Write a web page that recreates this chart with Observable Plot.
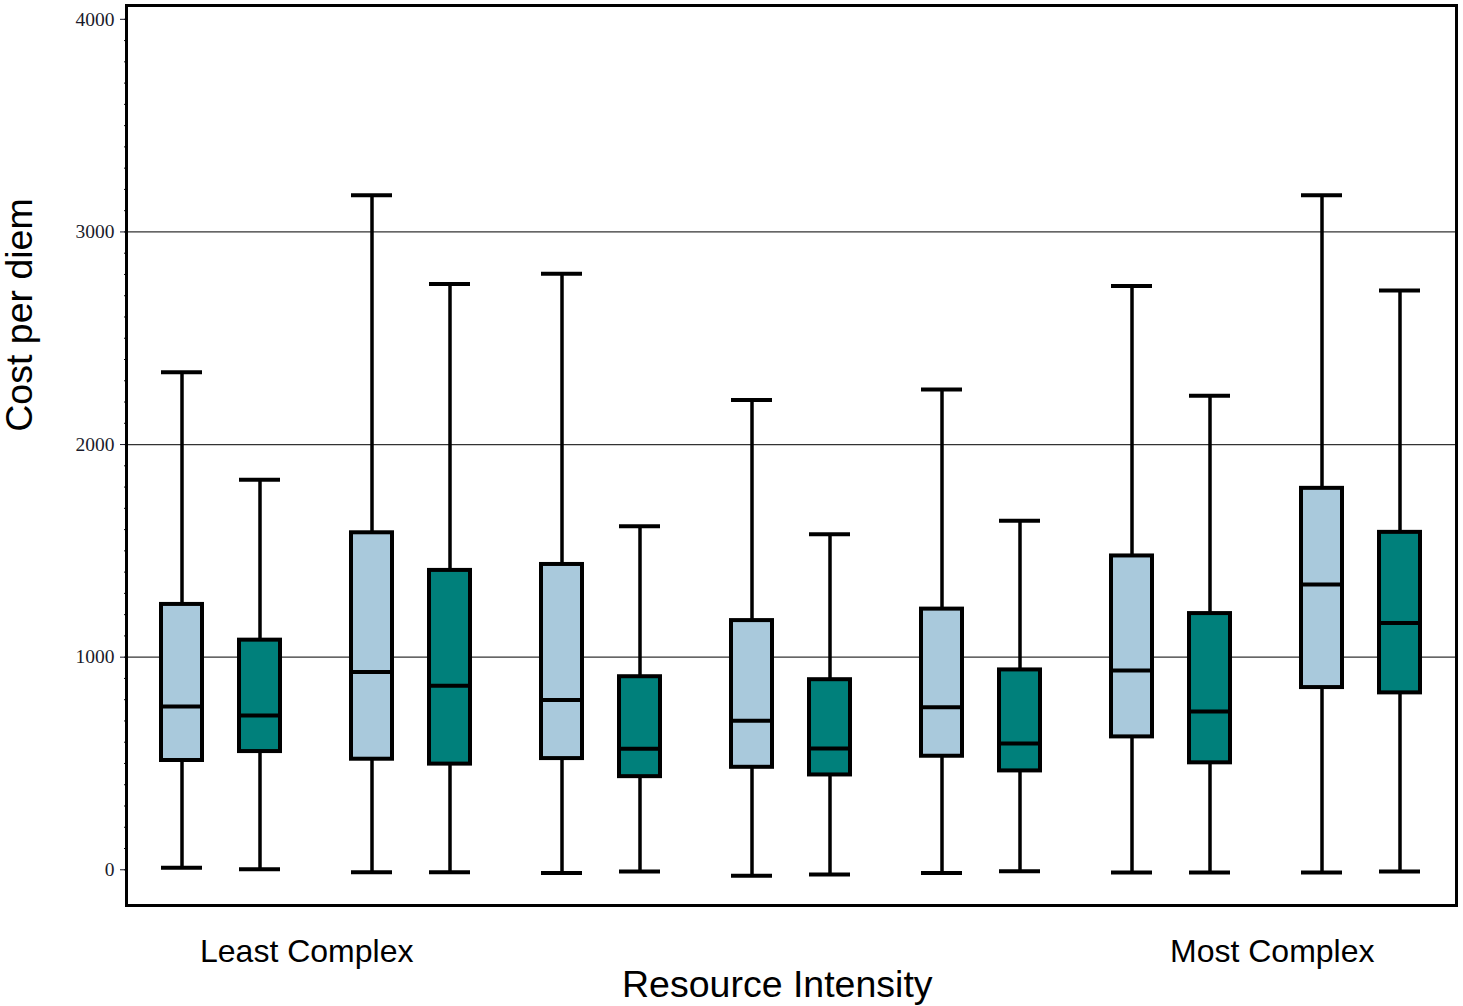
<!DOCTYPE html>
<html><head><meta charset="utf-8">
<script src="https://cdn.jsdelivr.net/npm/d3@7"></script>
<script src="https://cdn.jsdelivr.net/npm/@observablehq/plot@0.6"></script>
<style>
body{margin:0;background:#fff;}
#wrap{position:relative;width:1463px;height:1006px;font-family:"Liberation Sans",Arial,sans-serif;color:#000;}
.lbl{position:absolute;white-space:nowrap;line-height:1;}
</style></head><body>
<div id="wrap"></div>
<script>
// Complexity groups (left = least complex, right = most complex)
const groups = [1, 2, 3, 4, 5, 6, 7];
const seriesNames = ["Series A", "Series B"];
// Box-plot statistics, in order group1 A, group1 B, group2 A, ...
const whiskerHigh = [2340, 1834, 3172, 2755, 2803, 1616, 2209, 1578, 2259, 1642, 2746, 2230, 3172, 2725];
const q3          = [1248, 1080, 1585, 1408, 1436,  908, 1172,  894, 1226,  940, 1476, 1205, 1794, 1587];
const median      = [ 768,  726,  930,  865,  798,  569,  701,  571,  765,  594,  937,  744, 1342, 1161];
const q1          = [ 514,  556,  520,  497,  523,  438,  482,  446,  534,  465,  625,  503,  857,  832];
const whiskerLow  = [  10,    2,  -12,  -12,  -15,   -8,  -28,  -22,  -15,   -7,  -13,  -13,  -13,   -8];
const yTicks = [0, 1000, 2000, 3000, 4000];
const yMinorTicks = d3.range(0, 4001, 100);
const gridValues = [1000, 2000, 3000];

const rows = [];
groups.forEach((g, i) => seriesNames.forEach((s, j) => {
  const k = i * 2 + j;
  rows.push({group: g, series: s, low: whiskerLow[k], q1: q1[k], median: median[k], q3: q3[k], high: whiskerHigh[k]});
}));

const chart = Plot.plot({
  width: 1463, height: 1006,
  marginTop: 5, marginBottom: 101, marginLeft: 125, marginRight: 6,
  style: {background: "#fff", fontFamily: "'Liberation Serif', serif"},
  fx: {domain: groups, axis: null, padding: 0},
  x: {domain: seriesNames, axis: null, paddingInner: 0.47, paddingOuter: 0.44},
  y: {domain: [-168, 4065], axis: null},
  color: {domain: seriesNames, range: ["#a9c9dc", "#00807b"]},
  marks: [
    Plot.ruleY(gridValues, {stroke: "#333", strokeWidth: 1.2}),
    Plot.axisY(yMinorTicks, {tickSize: 2, tickFormat: () => "", label: null, color: "#111"}),
    Plot.axisY(yTicks, {tickSize: 6, tickPadding: 6, tickFormat: d3.format("d"), label: null,
      fontSize: 19.5, color: "#1a1a2a"}),
    Plot.ruleX(rows, {fx: "group", x: "series", y1: "low", y2: "high", stroke: "#000", strokeWidth: 3.5}),
    Plot.barY(rows, {fx: "group", x: "series", y1: "q1", y2: "q3", fill: "series", stroke: "#000", strokeWidth: 4}),
    Plot.tickY(rows, {fx: "group", x: "series", y: "median", stroke: "#000", strokeWidth: 4}),
    Plot.tickY(rows, {fx: "group", x: "series", y: "high", stroke: "#000", strokeWidth: 4}),
    Plot.tickY(rows, {fx: "group", x: "series", y: "low", stroke: "#000", strokeWidth: 4}),
    Plot.frame({facet: "super", stroke: "#000", strokeWidth: 3})
  ]
});

const wrap = document.getElementById("wrap");
wrap.appendChild(chart);
function addLabel(text, css) {
  const d = document.createElement("div");
  d.className = "lbl";
  d.textContent = text;
  Object.assign(d.style, css);
  wrap.appendChild(d);
}
addLabel("Cost per diem", {left: "20px", top: "315px", fontSize: "37.5px", transform: "translate(-50%,-50%) rotate(-90deg)"});
addLabel("Least Complex", {left: "200px", top: "935px", fontSize: "32px"});
addLabel("Most Complex", {left: "1170px", top: "935px", fontSize: "32px"});
addLabel("Resource Intensity", {left: "622px", top: "966px", fontSize: "37.5px"});
</script>
</body></html>
